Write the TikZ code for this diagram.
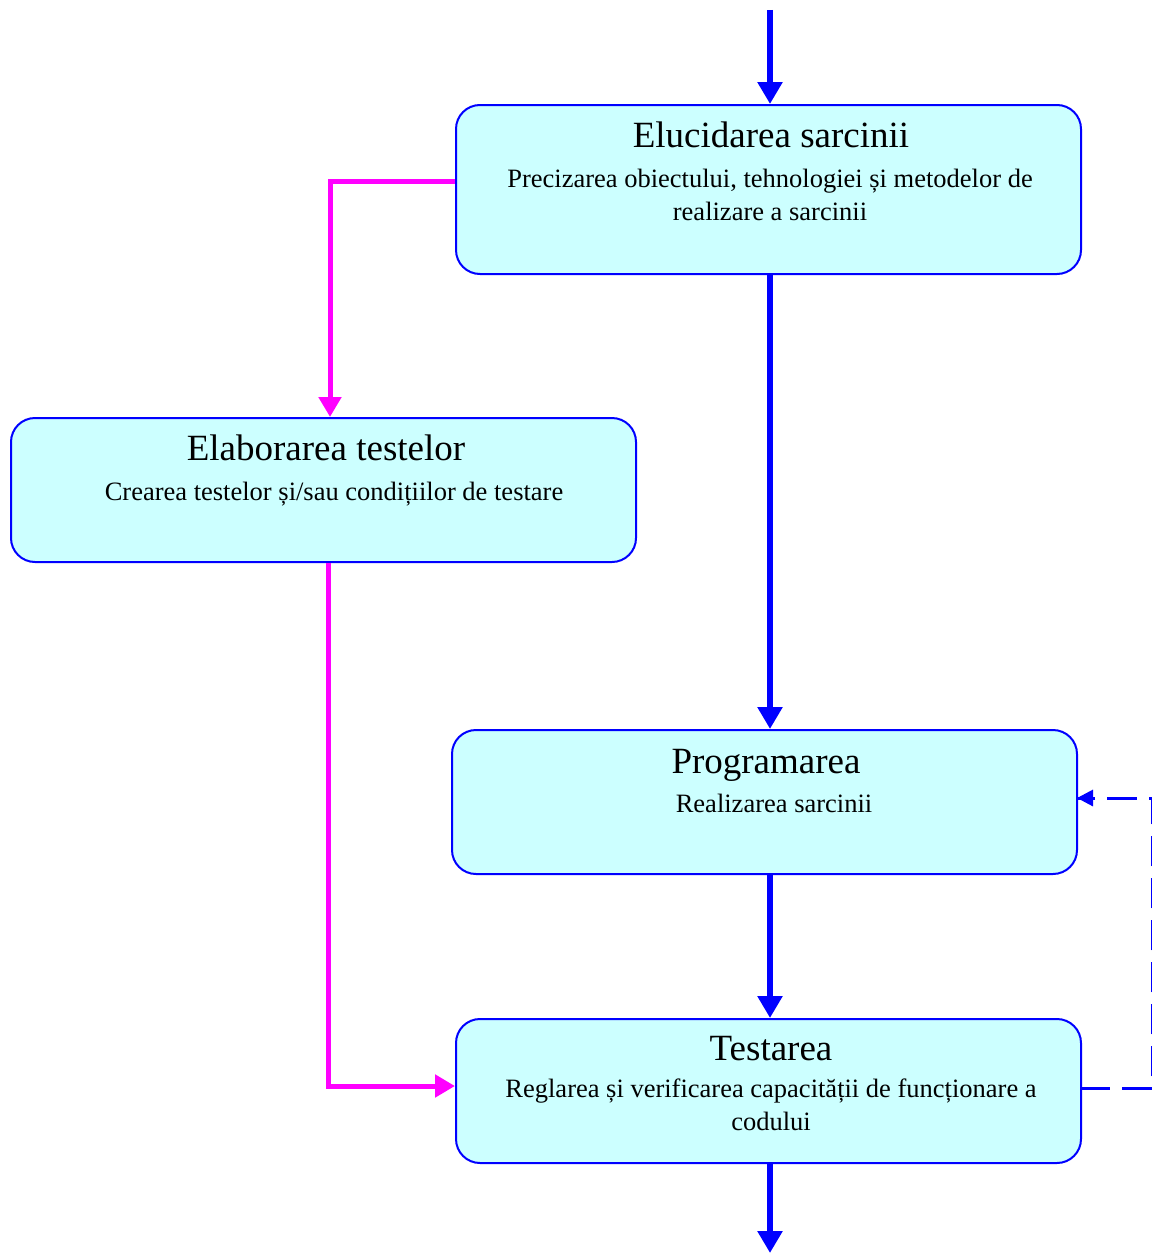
\documentclass[tikz,border=0pt]{standalone}
\usepackage{fontspec}
\setmainfont{Liberation Serif}
\usetikzlibrary{arrows.meta}
\definecolor{stagefill}{HTML}{CCFFFF}
\definecolor{flowblue}{HTML}{0000FF}
\definecolor{testpink}{HTML}{FF00FF}
\begin{document}
\begin{tikzpicture}[x=1pt,y=-1pt,
  stagebox/.style={draw=flowblue, line width=2pt, fill=stagefill, rounded corners=24pt,
    minimum width=625pt, minimum height=#1, inner sep=0pt, anchor=north west},
  title/.style={font=\fontsize{37}{40}\selectfont, anchor=base, inner sep=0pt},
  sub/.style={font=\fontsize{26.5}{33}\selectfont, align=center, anchor=base, inner sep=0pt},
  mainflow/.style={draw=flowblue, line width=6pt, -{Triangle[length=22pt,width=24pt]}},
  testflow/.style={draw=testpink, line width=5pt, -{Triangle[length=20pt,width=22pt]}},
  backflow/.style={draw=flowblue, line width=3pt, dash pattern=on 30pt off 12pt},
]
\useasboundingbox (0,0) rectangle (1151,1255);

% stages
\node[stagebox=169pt] (elu) at (455,104) {};
\node[stagebox=144pt] (ela) at (10,417) {};
\node[stagebox=144pt] (pro) at (451,729) {};
\node[stagebox=144pt] (tes) at (455,1018) {};

% texts (base = baseline of the last line)
\node[title] (eluT) at (771,147) {Elucidarea sarcinii};
\node[sub] (eluS) at (770,220) {Precizarea obiectului, tehnologiei și metodelor de\\realizare a sarcinii};
\node[title] (elaT) at (326,460) {Elaborarea testelor};
\node[sub] (elaS) at (334,500) {Crearea testelor și/sau condițiilor de testare};
\node[title] (proT) at (766,773) {Programarea};
\node[sub] (proS) at (774,812) {Realizarea sarcinii};
\node[title] (tesT) at (771,1060) {Testarea};
\node[sub] (tesS) at (771,1130) {Reglarea și verificarea capacității de funcționare a\\codului};

% free ends
\coordinate (in) at (770,10);
\coordinate (out) at (770,1253);
\coordinate (eluL) at (455,181);
\coordinate (tesL) at (455,1086);
\coordinate (tesR) at (1080,1088);
\coordinate (proR) at (1077,798);
\coordinate (edge) at (1152.4,0);

% main sequence
\draw[mainflow] (in) -- (in |- elu.north);
\draw[mainflow] (elu.south -| in) -- (pro.north -| in);
\draw[mainflow] (pro.south -| in) -- (tes.north -| in);
\draw[mainflow] (tes.south -| in) -- (out);

% test preparation branch
\draw[testflow] (eluL) -| (ela.north -| 330,0);
\draw[testflow] (ela.south -| 328,0) |- (tesL);

% feedback from testing to programming
\draw[backflow] (tesR) -- (tesR -| edge) -- (proR -| edge) -- (proR);
\draw[flowblue, line width=3pt, -{Triangle[length=16pt,width=16pt]}] (1095,798) -- (proR);
\end{tikzpicture}
\end{document}
